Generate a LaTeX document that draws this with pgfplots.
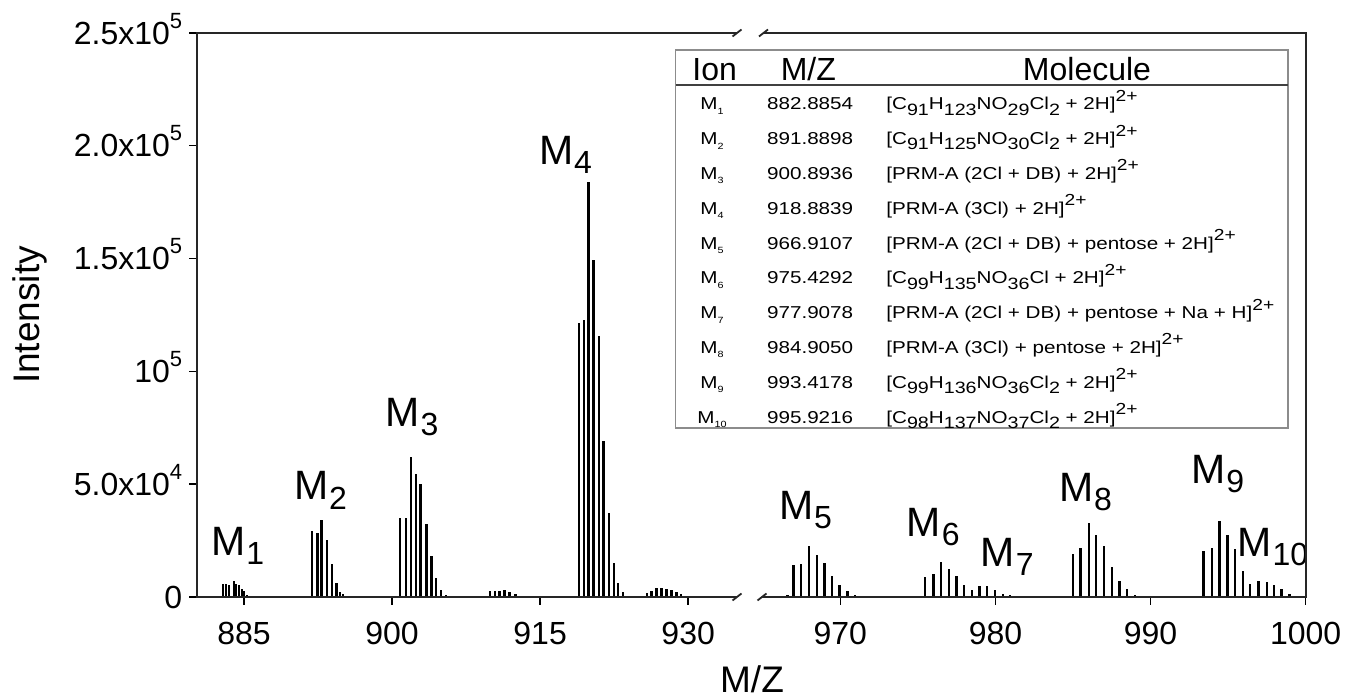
\documentclass[border=0pt]{standalone}
\usepackage{pgfplots}
\pgfplotsset{compat=1.18}
\usepackage{fontspec}
\setmainfont{Liberation Sans}

% peak labels, table cells, formula sub/superscripts
\newcommand{\pk}[1]{M\kern0.02em\raisebox{-0.22em}{\fontsize{16}{16}\selectfont #1}}
\newcommand{\ion}[1]{M\raisebox{-0.25em}{\fontsize{4.5}{4.5}\selectfont #1}}
\newcommand{\sub}[1]{\raisebox{-0.3em}{\fontsize{8.2}{8.2}\selectfont #1}}
\newcommand{\chg}{\raisebox{0.5em}{\fontsize{8}{8}\selectfont 2+}}
\newcommand{\tsup}[1]{\smash{\raisebox{0.5em}{\fontsize{11}{11}\selectfont #1}}}
\newcommand{\wide}[1]{\scalebox{1.2}[1]{#1}}

\pgfplotsset{
  spec/.style={scale only axis, height=282pt, ymin=0, ymax=250000,
    axis line style={draw=none}, tick align=outside, xtick pos=left, ytick pos=left,
    major tick length=4pt, tick style={black, line width=0.7pt},
    clip mode=individual,
    xticklabel style={font=\fontsize{16}{19}\selectfont, yshift=-5pt},
    yticklabel style={font=\fontsize{16}{19}\selectfont},
    scaled y ticks=false},
  stick/.style={ycomb, black, line width=1.2pt, no markers},
}
\tikzset{pklab/.style={font=\fontsize{20.5}{24}\selectfont, anchor=base west, inner sep=0pt}}

\begin{document}
\begin{tikzpicture}
\useasboundingbox (0pt,0pt) rectangle (672.5pt,350pt);

\begin{axis}[spec, at={(98.65pt,51.5pt)}, anchor=south west, width=271.35pt,
  xmin=880.27, xmax=935.25,
  xtick={885,900,915,930}, xticklabels={885,900,915,930},
  ytick={0,50000,100000,150000,200000,250000},
  yticklabels={0, 5.0x10\tsup{4}, 10\tsup{5}, 1.5x10\tsup{5}, 2.0x10\tsup{5}, 2.5x10\tsup{5}}]
% M1
\addplot[stick] coordinates {(882.90,5600)(883.18,5600)(883.51,5200)(883.96,7100)(884.19,5700)(884.52,5300)(884.80,3400)(885.03,2600)(885.33,900)};
% M2
\addplot[stick] coordinates {(891.86,29200)(892.43,28200)(892.87,34100)(893.38,25100)(893.92,14500)(894.39,6300)(894.73,2400)(895.0,1300)};
% M3
\addplot[stick] coordinates {(900.81,34800)(901.42,34800)(901.89,61900)(902.40,54300)(902.90,49900)(903.47,32200)(903.98,18100)(904.48,8500)(904.93,2900)(905.47,900)};
% small cluster near 911
\addplot[stick] coordinates {(909.9,2700)(910.4,2700)(910.9,2700)(911.4,3100)(911.9,2200)(912.5,1300)};
% M4
\addplot[stick] coordinates {(918.94,121400)(919.45,122900)(919.92,184100)(920.39,149400)(920.99,115500)(921.44,69300)(921.98,37300)(922.46,15200)(922.92,6100)(923.37,2200)};
% small cluster near 927
\addplot[stick] coordinates {(925.8,1800)(926.3,2600)(926.8,4000)(927.3,4000)(927.8,3500)(928.3,3100)(928.8,2200)(929.3,1300)};
\node[pklab] at (axis cs:881.66,18600) {\pk{1}};
\node[pklab] at (axis cs:890.04,43000) {\pk{2}};
\node[pklab] at (axis cs:899.32,75500) {\pk{3}};
\node[pklab] at (axis cs:914.86,191500) {\pk{4}};
\end{axis}

\begin{axis}[spec, at={(380.85pt,51.5pt)}, anchor=south west, width=272pt,
  xmin=964.93, xmax=1000,
  xtick={970,980,990,1000}, xticklabels={970,980,990,1000},
  ytick=\empty]
% M5
\addplot[stick] coordinates {(966.6,700)(966.97,14000)(967.45,14500)(967.98,22600)(968.48,18700)(968.97,15200)(969.45,9100)(969.94,5500)(970.45,2500)(970.95,1000)};
% M6, M7
\addplot[stick] coordinates {(975.46,8800)(976.0,10300)(976.49,15500)(977.0,12300)(977.5,9100)(977.99,5200)(978.49,3200)(978.96,4700)(979.44,4700)(979.97,3000)(980.47,1200)(980.94,700)};
% M8
\addplot[stick] coordinates {(984.98,18900)(985.47,21700)(986.02,32700)(986.49,27700)(986.98,22400)(987.50,13300)(987.99,6900)(988.47,3700)(988.98,1000)};
% M9, M10
\addplot[stick] coordinates {(993.40,20600)(993.95,21800)(994.44,33500)(994.95,27700)(995.45,21400)(995.94,11500)(996.41,5900)(996.95,6900)(997.49,6600)(997.96,5200)(998.43,3700)(998.95,1500)};
\node[pklab] at (axis cs:966.03,34400) {\pk{5}};
\node[pklab] at (axis cs:974.26,26700) {\pk{6}};
\node[pklab] at (axis cs:979.03,13400) {\pk{7}};
\node[pklab] at (axis cs:984.08,42200) {\pk{8}};
\node[pklab] at (axis cs:992.61,50100) {\pk{9}};
\node[pklab] at (axis cs:995.58,17900) {\pk{10}};
\end{axis}

\begin{scope}[x=0.5pt,y=0.5pt]
% broken frame
\draw[black!85, line width=0.9pt] (737,103) -- (197.3,103) -- (197.3,667) -- (737,667);
\draw[black!85, line width=0.9pt] (763,667) -- (1305.7,667) -- (1305.7,103) -- (762,103);
\draw[black!85, line width=0.9pt] (732.5,99.5) -- (741.5,106.5);
\draw[black!85, line width=0.9pt] (732.5,663.5) -- (741.5,670.5);
\draw[black!85, line width=0.9pt] (757.5,99.5) -- (766.5,106.5);
\draw[black!85, line width=0.9pt] (759,663.5) -- (768,670.5);

% axis titles
\node[font=\fontsize{18.5}{22}\selectfont, rotate=90] at (30,385) {Intensity};
\node[font=\fontsize{18.5}{22}\selectfont, anchor=base, inner sep=0pt] at (752,7) {M/Z};

% table of ions
\fill[white] (675.5,272) rectangle (1288,650);
\draw[black!45, line width=0.7pt] (675.5,272) rectangle (1288,650);
\draw[black!75, line width=1.1pt] (675.5,615) -- (1288,615);
\begin{scope}[every node/.style={inner sep=0pt}]
\node[font=\fontsize{16}{19}\selectfont, anchor=base] at (714.7,619) {Ion};
\node[font=\fontsize{16}{19}\selectfont, anchor=base] at (808.3,619) {M/Z};
\node[font=\fontsize{16}{19}\selectfont, anchor=base] at (1087,619) {Molecule};
\foreach \i/\mz/\mol [count=\k from 0] in {
  1/882.8854/{[C\sub{91}H\sub{123}NO\sub{29}Cl\sub{2} + 2H]\chg},
  2/891.8898/{[C\sub{91}H\sub{125}NO\sub{30}Cl\sub{2} + 2H]\chg},
  3/900.8936/{[PRM-A (2Cl + DB) + 2H]\chg},
  4/918.8839/{[PRM-A (3Cl) + 2H]\chg},
  5/966.9107/{[PRM-A (2Cl + DB) + pentose + 2H]\chg},
  6/975.4292/{[C\sub{99}H\sub{135}NO\sub{36}Cl + 2H]\chg},
  7/977.9078/{[PRM-A (2Cl + DB) + pentose + Na + H]\chg},
  8/984.9050/{[PRM-A (3Cl) + pentose + 2H]\chg},
  9/993.4178/{[C\sub{99}H\sub{136}NO\sub{36}Cl\sub{2} + 2H]\chg},
  10/995.9216/{[C\sub{98}H\sub{137}NO\sub{37}Cl\sub{2} + 2H]\chg}} {
  \pgfmathsetmacro{\yb}{590-34.8*\k}
  \node[font=\fontsize{8.6}{10}\selectfont, anchor=base] at (712,\yb) {\wide{\ion{\i}}};
  \node[font=\fontsize{8.6}{10}\selectfont, anchor=base west] at (766.7,\yb) {\wide{\mz}};
  \node[font=\fontsize{8.6}{10}\selectfont, anchor=base west] at (886,\yb) {\wide{\mol}};
}
\end{scope}
\end{scope}
\end{tikzpicture}
\end{document}
